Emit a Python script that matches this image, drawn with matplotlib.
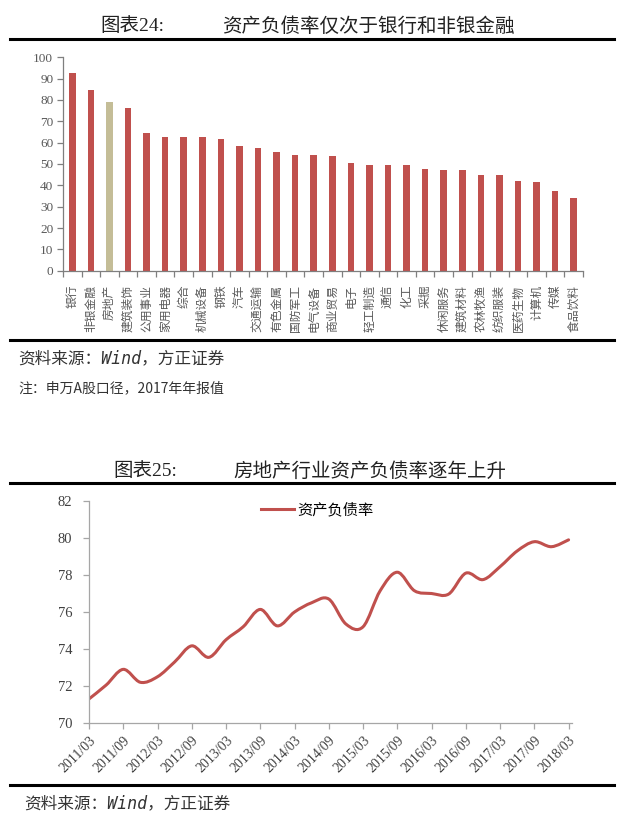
"""
Rebuild of two report charts: industry debt ratio bars and real-estate debt ratio line.
"""

import numpy as np
import matplotlib
matplotlib.use("Agg")
import matplotlib.pyplot as plt
from matplotlib.path import Path
from matplotlib.patches import PathPatch
from matplotlib.lines import Line2D
from matplotlib.ticker import FixedLocator, NullFormatter

# ---- data: chart 24 (2017 annual report, SW industries) ----
industries = ['银行', '非银金融', '房地产', '建筑装饰', '公用事业', '家用电器', '综合',
              '机械设备', '钢铁', '汽车', '交通运输', '有色金属', '国防军工', '电气设备',
              '商业贸易', '电子', '轻工制造', '通信', '化工', '采掘', '休闲服务',
              '建筑材料', '农林牧渔', '纺织服装', '医药生物', '计算机', '传媒', '食品饮料']
debt_ratio = [92.5, 84.5, 79.2, 76.4, 64.7, 62.8, 62.5, 62.5, 61.9, 58.6, 57.5, 55.8,
              54.4, 54.4, 53.7, 50.3, 49.7, 49.4, 49.4, 47.8, 47.3, 47.0, 44.7, 44.7,
              42.2, 41.6, 37.3, 34.1]
highlight = '房地产'

# ---- data: chart 25 (real estate, quarterly) ----
quarters = ['2011/03', '2011/06', '2011/09', '2011/12', '2012/03', '2012/06', '2012/09',
            '2012/12', '2013/03', '2013/06', '2013/09', '2013/12', '2014/03', '2014/06',
            '2014/09', '2014/12', '2015/03', '2015/06', '2015/09', '2015/12', '2016/03',
            '2016/06', '2016/09', '2016/12', '2017/03', '2017/06', '2017/09', '2017/12',
            '2018/03']
re_ratio = [71.3, 72.05, 72.9, 72.2, 72.5, 73.3, 74.17, 73.55, 74.5, 75.2, 76.14, 75.25,
            76.0, 76.5, 76.7, 75.35, 75.2, 77.15, 78.15, 77.15, 77.0, 76.97, 78.1, 77.75,
            78.45, 79.3, 79.8, 79.53, 79.9]
series_name = '资产负债率'

RED = '#C0504D'
TAN = '#C4BD97'
W, H = 628, 826

fig = plt.figure(figsize=(W / 100, H / 100), dpi=100)
fig.patch.set_facecolor('white')

cjk = 'Noto Sans CJK SC'
serif = ['Liberation Serif', cjk]


def fx(px):
    return px / W


def fy(py):
    return 1 - py / H


def rule(y):
    fig.add_artist(Line2D([fx(10), fx(614)], [fy(y), fy(y)], color='black', lw=2.2,
                          transform=fig.transFigure))


def smooth_path(x, y):
    # Excel style smoothed line: cubic bezier segments through every point
    pts = np.column_stack([x, y]).astype(float)
    n = len(pts)
    verts, codes = [pts[0]], [Path.MOVETO]
    for i in range(n - 1):
        p0 = pts[i - 1] if i > 0 else pts[i]
        p1, p2 = pts[i], pts[i + 1]
        p3 = pts[i + 2] if i + 2 < n else pts[i + 1]
        verts += [p1 + (p2 - p0) / 6, p2 - (p3 - p1) / 6, p2]
        codes += [Path.CURVE4] * 3
    return Path(verts, codes)


# ================= chart 24 =================
fig.text(fx(100), fy(26), '图表24:', family=serif, fontsize=14, va='center', color='#222222')
fig.text(fx(222), fy(26), '资产负债率仅次于银行和非银金融', family=cjk, fontsize=14,
         va='center', color='#222222')
rule(38.5)

ax1 = fig.add_axes([fx(63), fy(270.7), fx(520), (270.7 - 57.3) / H])
xpos = np.arange(len(industries))
colors = [TAN if name == highlight else RED for name in industries]
ax1.bar(xpos, debt_ratio, width=0.36, color=colors)
ax1.set_xlim(-0.5, len(industries) - 0.5)
ax1.set_ylim(0, 100)
ax1.set_yticks(np.arange(0, 101, 10))
ax1.set_xticks(xpos)
ax1.set_xticklabels(industries, rotation=90, family=cjk, fontsize=8.5, color='#595959')
ax1.xaxis.set_minor_locator(FixedLocator(np.arange(-0.5, len(industries), 1)))
ax1.xaxis.set_minor_formatter(NullFormatter())
ax1.tick_params(axis='x', which='major', length=0, pad=10)
ax1.tick_params(axis='x', which='minor', length=4, color='#7F7F7F', width=0.9)
ax1.tick_params(axis='y', length=4, color='#7F7F7F', width=0.9, pad=3,
                labelsize=9.5, labelcolor='#595959')
for lab in ax1.get_yticklabels():
    lab.set_family('Liberation Serif')
for side in ('top', 'right'):
    ax1.spines[side].set_visible(False)
for side in ('left', 'bottom'):
    ax1.spines[side].set_color('#7F7F7F')
    ax1.spines[side].set_linewidth(0.9)

rule(340)
fig.text(fx(18), fy(358), '资料来源：Wind，方正证券', family=['DejaVu Sans Mono', cjk],
         fontsize=12, va='center', color='#333333', style='italic')
fig.text(fx(18), fy(388), '注：申万A股口径，2017年年报值', family=cjk, fontsize=10,
         va='center', color='#333333')

# ================= chart 25 =================
fig.text(fx(113), fy(471), '图表25:', family=serif, fontsize=14, va='center', color='#222222')
fig.text(fx(233), fy(471), '房地产行业资产负债率逐年上升', family=cjk, fontsize=14,
         va='center', color='#222222')
rule(483.5)

ax2 = fig.add_axes([fx(89), fy(723), fx(483), 222 / H])
qx = np.arange(len(quarters))
ax2.add_patch(PathPatch(smooth_path(qx, re_ratio), fill=False, edgecolor=RED, lw=2.2,
                        capstyle='round', joinstyle='round'))
ax2.set_xlim(0, 28.2)
ax2.set_ylim(70, 82)
ax2.set_yticks(np.arange(70, 83, 2))
ax2.set_xticks(qx[::2])
ax2.set_xticklabels(quarters[::2], rotation=45, ha='right', rotation_mode='anchor',
                    family='Liberation Serif', fontsize=10, color='#404040')
ax2.tick_params(axis='x', length=4, color='#A6A6A6', width=0.9, pad=4)
ax2.tick_params(axis='y', length=4, color='#A6A6A6', width=0.9, pad=8,
                labelsize=10.5, labelcolor='#404040')
for lab in ax2.get_yticklabels():
    lab.set_family('Liberation Serif')
for side in ('top', 'right'):
    ax2.spines[side].set_visible(False)
for side in ('left', 'bottom'):
    ax2.spines[side].set_color('#A6A6A6')
    ax2.spines[side].set_linewidth(0.9)

handle = Line2D([], [], color=RED, lw=2.2)
fig.legend(handles=[handle], labels=[series_name], loc='center',
           bbox_to_anchor=(fx(317), fy(510)), frameon=False, handlelength=2.2,
           handletextpad=0.2, prop={'family': cjk, 'size': 11})

rule(785)
fig.text(fx(24), fy(803), '资料来源：Wind，方正证券', family=['DejaVu Sans Mono', cjk],
         fontsize=12, va='center', color='#333333', style='italic')

fig.savefig('out.png', dpi=100, facecolor='white')
